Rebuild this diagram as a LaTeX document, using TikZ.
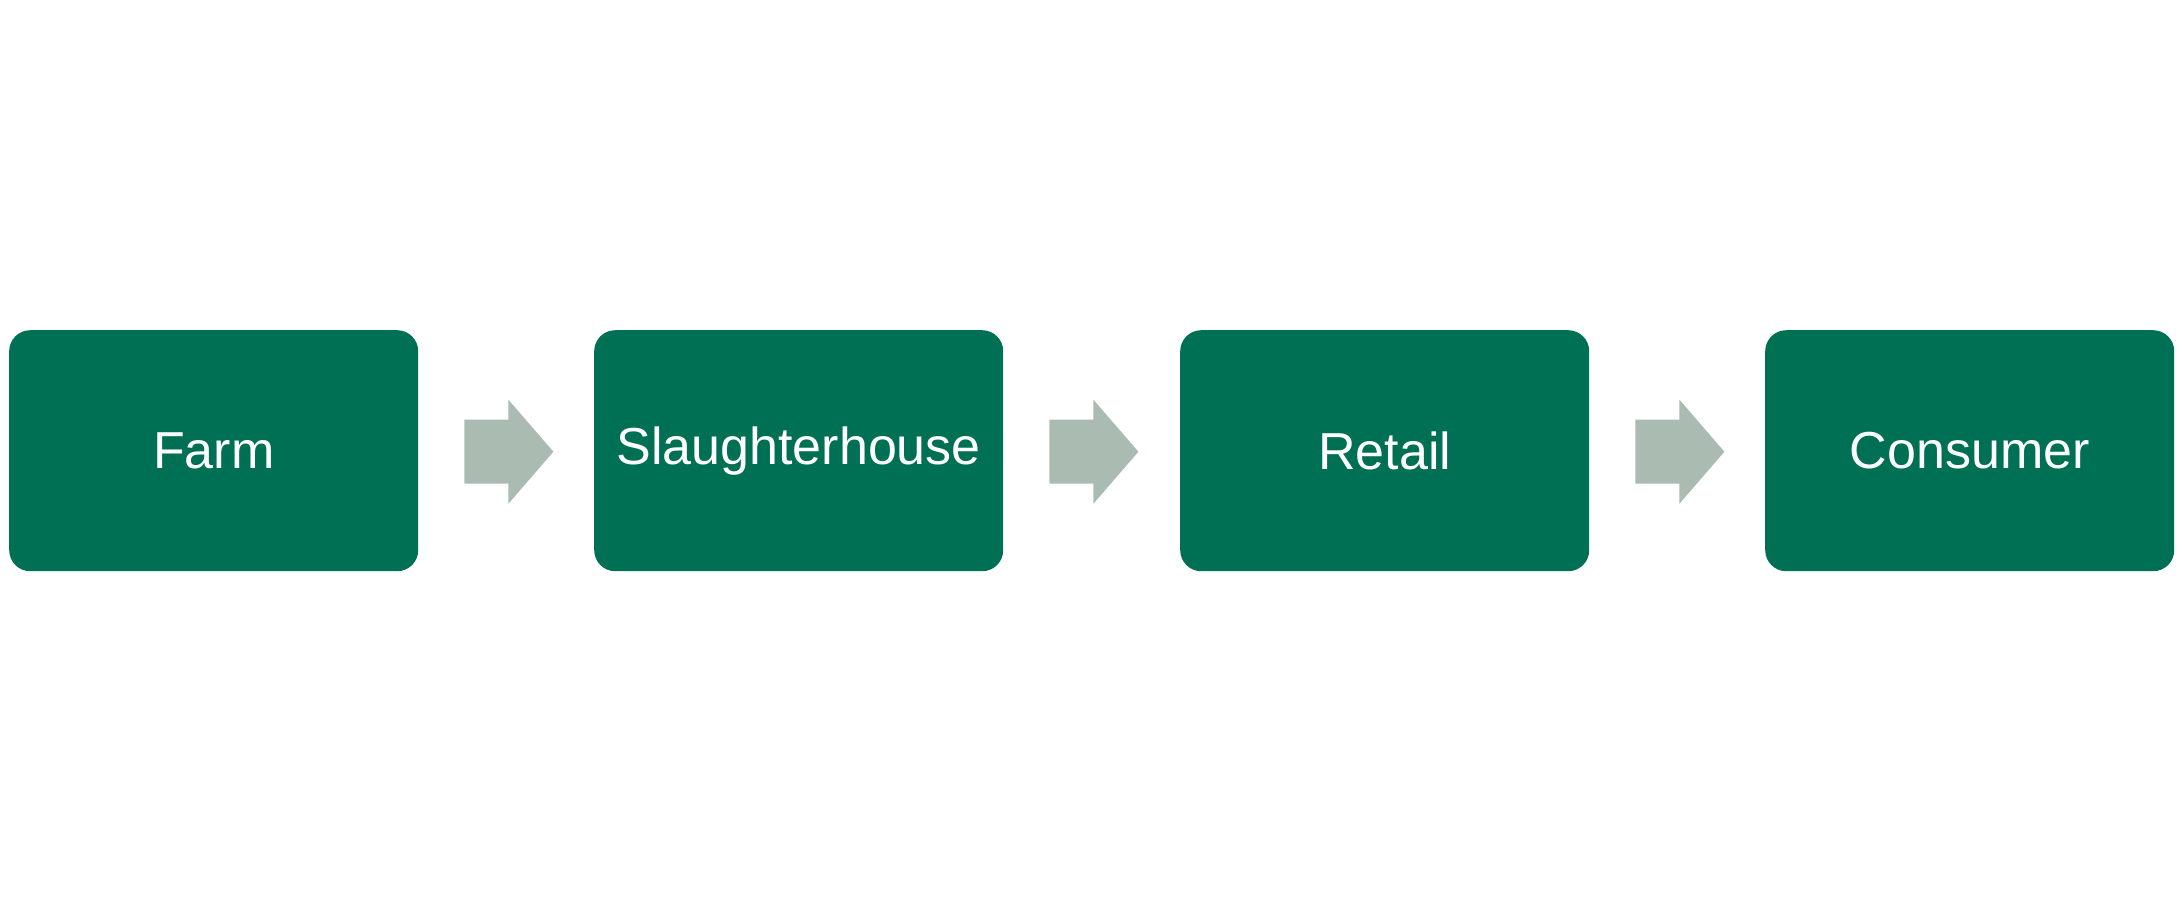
\documentclass[tikz,border=0pt]{standalone}
\usepackage{fontspec}
\setmainfont{Liberation Sans}
\definecolor{boxg}{HTML}{007054}
\definecolor{arrg}{HTML}{AABBB2}
\begin{document}
\begin{tikzpicture}[x=1pt,y=-1pt,
  stage/.style={fill=boxg,rounded corners=21pt,minimum width=409pt,minimum height=241pt,inner sep=0pt,text=white,font=\fontsize{52}{60}\selectfont},
  flow/.style={fill=arrg}]
\useasboundingbox (0,0) rectangle (2183,900);
\node[stage,anchor=north west] (farm) at (9,330) {Farm};
\node[stage,anchor=north west] (sl) at (594,330) {Slaughterhouse};
\node[stage,anchor=north west] (ret) at (1180,330) {Retail};
\node[stage,anchor=north west] (con) at (1765,330) {Consumer};
\foreach \a/\b in {farm/sl,sl/ret,ret/con}{
  \path (\a.east) ++(46,0) coordinate (s\a);
  \fill[flow] (s\a) ++(0,-31) -- ++(44,0) -- ++(0,-20) -- ++(45,52) -- ++(-45,52) -- ++(0,-20) -- ++(-44,0) -- cycle;
}
\end{tikzpicture}
\end{document}
